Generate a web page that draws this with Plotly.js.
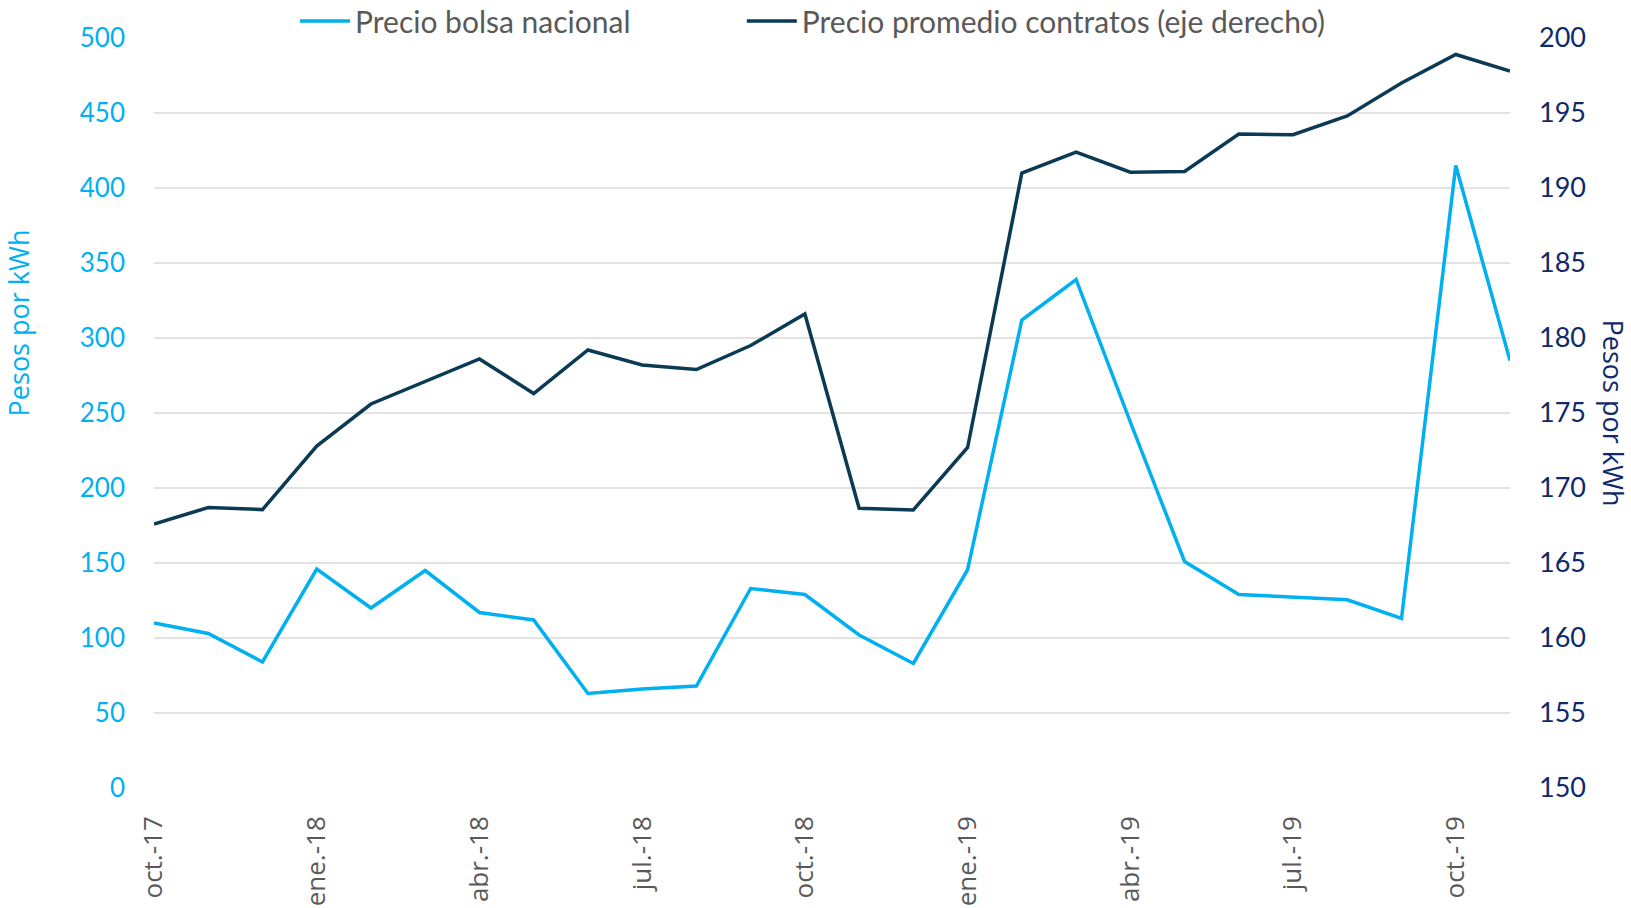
<!DOCTYPE html>
<html>
<head>
<meta charset="utf-8">
<script src="https://cdn.plot.ly/plotly-3.0.1.min.js"></script>
<style>html,body{margin:0;padding:0;background:#fff;}#chart{width:1631px;height:908px;}</style>
</head>
<body>
<div id="chart"></div>
<script>
const months = ["oct.-17","nov.-17","dic.-17","ene.-18","feb.-18","mar.-18","abr.-18","may.-18","jun.-18","jul.-18","ago.-18","sep.-18","oct.-18","nov.-18","dic.-18","ene.-19","feb.-19","mar.-19","abr.-19","may.-19","jun.-19","jul.-19","ago.-19","sep.-19","oct.-19","nov.-19"];
const precioBolsa = [110, 103, 84, 146, 120, 145, 117, 112, 63, 66, 68, 133, 129, 102, 83, 145.5, 312, 339, 244, 151, 129, 127.5, 125.5, 113, 415, 285];
const precioContratos = [167.6, 168.7, 168.56, 172.8, 175.6, 177.1, 178.6, 176.3, 179.2, 178.2, 177.9, 179.5, 181.6, 168.65, 168.54, 172.7, 191.0, 192.4, 191.05, 191.1, 193.6, 193.55, 194.8, 197.0, 198.9, 197.8];
const tickLabels = ["oct.-17","ene.-18","abr.-18","jul.-18","oct.-18","ene.-19","abr.-19","jul.-19","oct.-19"];
const leftTicks = [0,50,100,150,200,250,300,350,400,450,500];
const rightTicks = [150,155,160,165,170,175,180,185,190,195,200];

const lightBlue = "#00B0F0";
const darkBlue = "#0B3B54";
const navy = "#0E2A6B";
const gray = "#595959";

const traces = [
  {x: months, y: precioBolsa, type: "scatter", mode: "lines", name: "Precio bolsa nacional",
   line: {color: lightBlue, width: 3.5}, yaxis: "y", legend: "legend"},
  {x: months, y: precioContratos, type: "scatter", mode: "lines", name: "Precio promedio contratos (eje derecho)",
   line: {color: darkBlue, width: 3.5}, yaxis: "y2", legend: "legend2"}
];

const legendFont = {family: "Lato, sans-serif", size: 30, color: gray};

const layout = {
  width: 1631, height: 908,
  margin: {l: 154, r: 121, t: 37.5, b: 120.3, pad: 0, autoexpand: false},
  paper_bgcolor: "#fff", plot_bgcolor: "#fff",
  showlegend: true,
  legend: {orientation: "h", x: 0.104, xanchor: "left", yref: "container", y: 0.977, yanchor: "middle",
           font: legendFont, itemwidth: 50, bgcolor: "rgba(0,0,0,0)"},
  legend2: {orientation: "h", x: 0.4335, xanchor: "left", yref: "container", y: 0.977, yanchor: "middle",
           font: legendFont, itemwidth: 50, bgcolor: "rgba(0,0,0,0)"},
  xaxis: {type: "category", range: [0, 25], tickmode: "array", tickvals: tickLabels, ticktext: tickLabels,
          tickangle: -90, tickfont: {family: "Open Sans, sans-serif", size: 26, color: gray},
          showgrid: false, zeroline: false, showline: false, ticks: "", ticklabelstandoff: 22},
  yaxis: {range: [0, 500], tickmode: "array", tickvals: leftTicks, showgrid: true, gridcolor: "#E3E3E3", gridwidth: 1.5,
          zeroline: false, showline: false, ticks: "", tickfont: {family: "Lato, sans-serif", size: 26, color: lightBlue},
          ticklabelstandoff: 28},
  yaxis2: {range: [150, 200], tickmode: "array", tickvals: rightTicks, overlaying: "y", side: "right", showgrid: false,
           zeroline: false, showline: false, ticks: "", tickfont: {family: "Lato, sans-serif", size: 27, color: navy},
           ticklabelstandoff: 28},
  annotations: [
    {text: "Pesos por kWh", xref: "paper", yref: "paper", x: -0.1003, y: 0.6208, xanchor: "center", yanchor: "middle",
     textangle: -90, showarrow: false, font: {family: "Open Sans, sans-serif", size: 27, color: lightBlue}},
    {text: "Pesos por kWh", xref: "paper", yref: "paper", x: 1.077, y: 0.50, xanchor: "center", yanchor: "middle",
     textangle: 90, showarrow: false, font: {family: "Open Sans, sans-serif", size: 27, color: navy}}
  ]
};

Plotly.newPlot("chart", traces, layout, {displayModeBar: false, staticPlot: true});
</script>
</body>
</html>
